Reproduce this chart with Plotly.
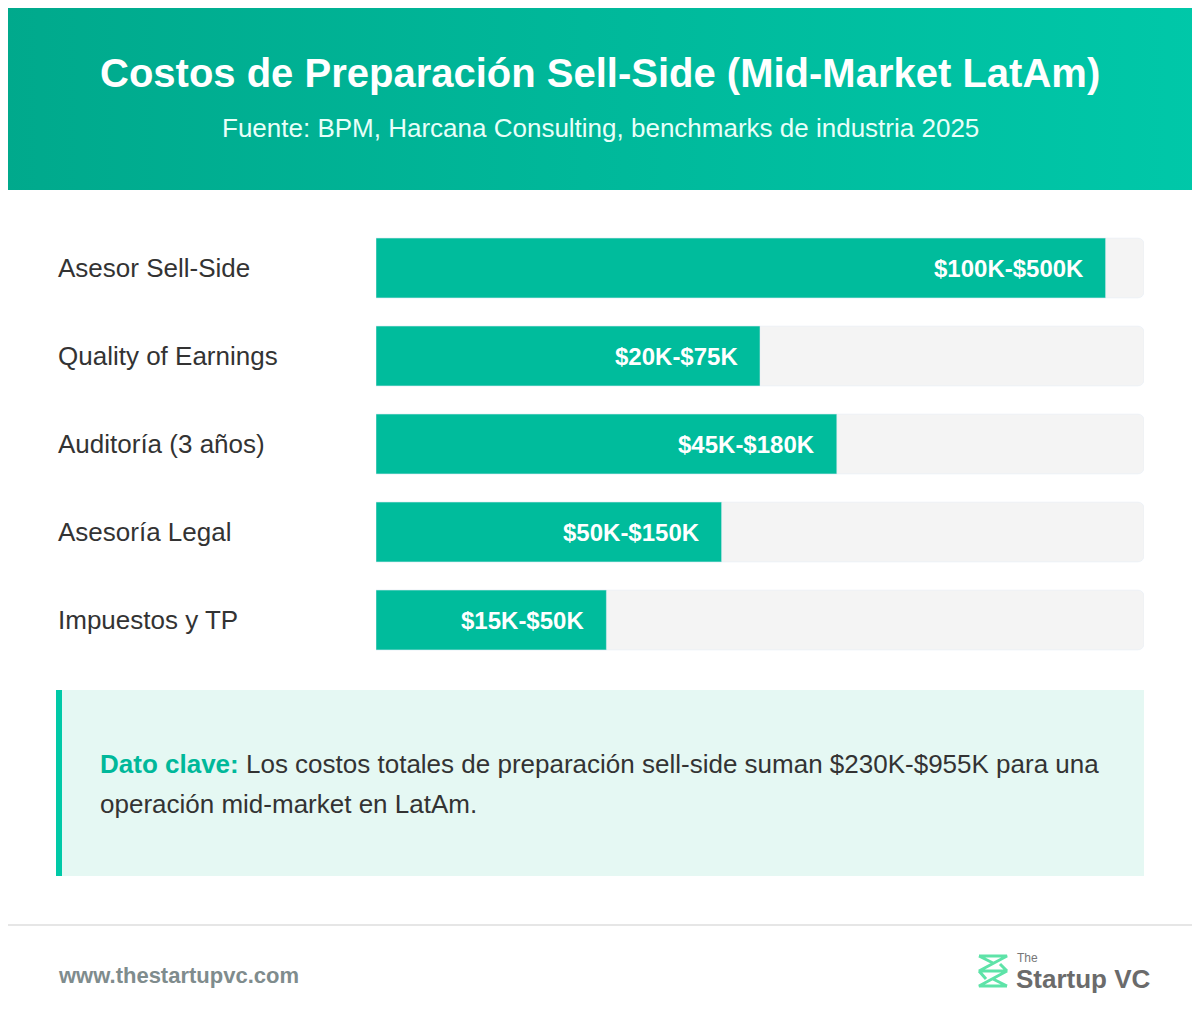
import plotly.graph_objects as go

categories = ['Asesor Sell-Side', 'Quality of Earnings', 'Auditoría (3 años)', 'Asesoría Legal', 'Impuestos y TP']
bar_pct = [95, 50, 60, 45, 30]
value_labels = ['$100K-$500K', '$20K-$75K', '$45K-$180K', '$50K-$150K', '$15K-$50K']

W, H = 1200, 1024
OFF = 8  # page body margin shifts the figure
FONT = 'Liberation Sans, Arial, sans-serif'
TEAL = '#00bc9c'


def px(x):
    return (x - OFF) / W


def py(y):
    return 1 - (y - OFF) / H


fig = go.Figure()

# header with gradient, on a full-page helper axis
fig.add_trace(go.Scatter(
    x=[0, W + OFF, W + OFF, 0, 0], y=[0, 0, 190, 190, 0], xaxis='x2', yaxis='y2',
    fill='toself', mode='none', hoverinfo='skip', showlegend=False,
    fillgradient=dict(type='horizontal', colorscale=[[0, '#00a98c'], [1, '#00c8a9']]),
))

# track + value bars
fig.add_trace(go.Bar(
    y=categories, x=[100] * len(categories), orientation='h',
    marker=dict(color='#f4f4f4', cornerradius=6), width=0.68,
    hoverinfo='skip', showlegend=False,
))
fig.add_trace(go.Bar(
    y=categories, x=bar_pct, orientation='h',
    marker=dict(color=TEAL, cornerradius=6), width=0.68,
    hoverinfo='skip', showlegend=False,
))

for cat, v, lab in zip(categories, bar_pct, value_labels):
    fig.add_annotation(x=v, y=cat, text=lab, showarrow=False, xanchor='right', xshift=-20,
                       font=dict(family=FONT, size=24, color='white', weight='bold'))
    fig.add_annotation(x=px(56), xref='paper', y=cat, text=cat, showarrow=False, xanchor='left',
                       font=dict(family=FONT, size=26, color='#333333'))

shapes = [
    # callout box
    dict(type='rect', xref='paper', yref='paper', x0=px(56), x1=px(1144), y0=py(876), y1=py(690),
         fillcolor='#e5f8f3', line=dict(width=0), layer='below'),
    dict(type='rect', xref='paper', yref='paper', x0=px(56), x1=px(62), y0=py(876), y1=py(690),
         fillcolor='#00c9a7', line=dict(width=0)),
    # footer line
    dict(type='line', xref='paper', yref='paper', x0=0, x1=1, y0=py(925), y1=py(925),
         line=dict(color='#e6e6e6', width=2)),
]

# logo icon
icon = 'M979,956 L1007,956 L979,971 L1007,971 L979,986 L1007,986 M979,956 L993,963 M993,979 L1007,986 M979,971 L986,979 M1000,964 L1007,971'
shapes.append(dict(type='path', xref='x2', yref='y2', path=icon, line=dict(color='#5ee3a8', width=3)))

texts = [
    (600, 73, 'Costos de Preparación Sell-Side (Mid-Market LatAm)', 40, 'white', 'bold', 'center'),
    (600, 128, 'Fuente: BPM, Harcana Consulting, benchmarks de industria 2025', 26, '#e8fff9', 'normal', 'center'),
    (98, 764, '<span style="color:#00b89a"><b>Dato clave:</b></span> Los costos totales de preparación sell-side suman $230K-$955K para una', 26, '#333333', 'normal', 'left'),
    (98, 804, 'operación mid-market en LatAm.', 26, '#333333', 'normal', 'left'),
    (56, 975, 'www.thestartupvc.com', 22, '#7f8c8d', 'bold', 'left'),
    (1015, 958, 'The', 12, '#777777', 'normal', 'left'),
    (1014, 979, 'Startup VC', 26, '#6b6b6b', 'bold', 'left'),
]
for x, y, t, s, c, w, a in texts:
    fig.add_annotation(x=x, y=y, xref='x2', yref='y2', text=t, showarrow=False, xanchor=a,
                       font=dict(family=FONT, size=s, color=c, weight=w))

fig.update_layout(
    width=W, height=H, margin=dict(l=0, r=0, t=0, b=0),
    paper_bgcolor='white', plot_bgcolor='rgba(0,0,0,0)',
    barmode='overlay', shapes=shapes,
    xaxis=dict(domain=[px(376), px(1144)], range=[0, 100], visible=False, fixedrange=True),
    yaxis=dict(domain=[py(664), py(224)], autorange='reversed', visible=False, fixedrange=True),
    xaxis2=dict(domain=[0, 1], range=[OFF, W + OFF], visible=False, anchor='y2'),
    yaxis2=dict(domain=[0, 1], range=[H + OFF, OFF], visible=False, anchor='x2'),
)

fig.write_html('out.html')
